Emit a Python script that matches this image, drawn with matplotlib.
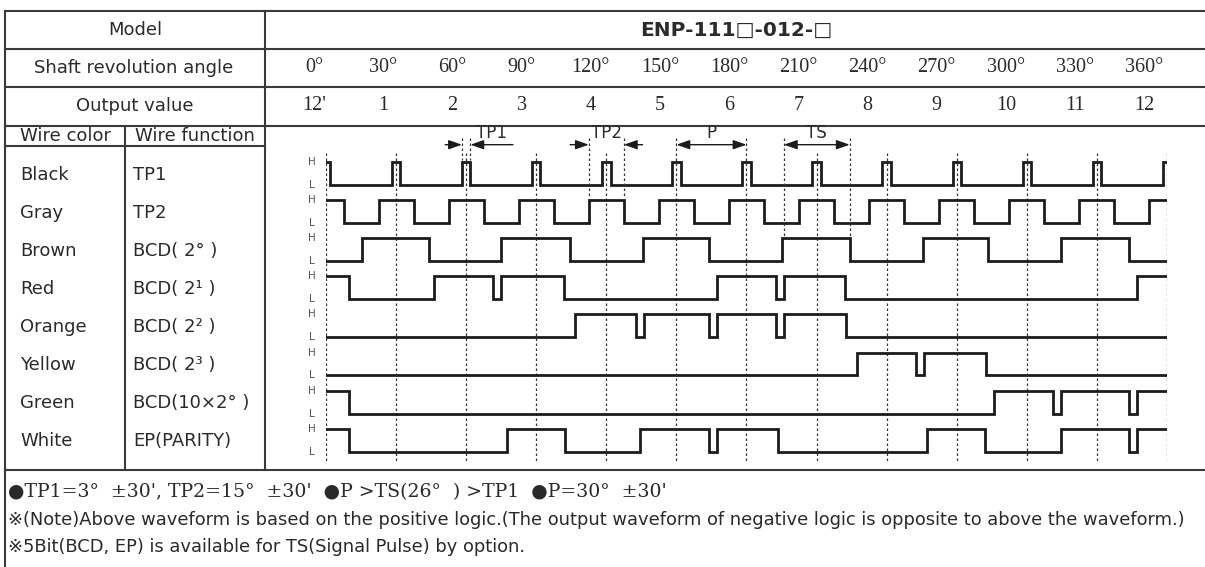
import matplotlib
matplotlib.use("Agg")
import matplotlib.pyplot as plt

# Table header data
model_name = "ENP-111\u25a1-012-\u25a1"
angle_labels = ["0°", "30°", "60°", "90°", "120°", "150°", "180°", "210°",
                "240°", "270°", "300°", "330°", "360°"]
output_labels = ["12'", "1", "2", "3", "4", "5", "6", "7", "8", "9", "10", "11", "12"]
wire_colors = ["Black", "Gray", "Brown", "Red", "Orange", "Yellow", "Green", "White"]
wire_functions = ["TP1", "TP2", "BCD( 2° )", "BCD( 2¹ )", "BCD( 2² )",
                  "BCD( 2³ )", "BCD(10×2° )", "EP(PARITY)"]

# Waveforms: starting level (1 = H) and the shaft angles where the level toggles
start_levels = [1, 1, 0, 1, 0, 0, 1, 1]
edges = [
    [1.8, 28.2, 31.8, 58.2, 61.8, 88.2, 91.8, 118.2, 121.8, 148.2, 151.8, 178.2,
     181.8, 208.2, 211.8, 238.2, 241.8, 268.2, 271.8, 298.2, 301.8, 328.2, 331.8, 358.2],
    [7.5, 22.5, 37.5, 52.5, 67.5, 82.5, 97.5, 112.5, 127.5, 142.5, 157.5, 172.5,
     187.5, 202.5, 217.5, 232.5, 247.5, 262.5, 277.5, 292.5, 307.5, 322.5, 337.5, 352.5],
    [15.5, 44, 75, 104.5, 135.5, 164, 195, 224.2, 255.5, 283.5, 314.5, 343.7],
    [10, 46.3, 71.3, 74.9, 101.7, 167.5, 192.5, 195.9, 222.3, 347.1],
    [106.7, 132.9, 136.3, 163.8, 167.5, 192.5, 195.9, 222.6],
    [227.1, 252.6, 256, 282.6],
    [10, 286, 311.2, 314.8, 343.7, 347.1],
    [10, 77.4, 102.4, 134.3, 163.8, 167.5, 193.3, 257.1, 281.9, 314.5, 343.7, 347.1],
]
grid_angles = [0, 30, 60, 90, 120, 150, 180, 210, 240, 270, 300, 330, 360]

notes = [
    "●TP1=3°  ±30', TP2=15°  ±30'  ●P >TS(26°  ) >TP1  ●P=30°  ±30'",
    "※(Note)Above waveform is based on the positive logic.(The output waveform of negative logic is opposite to above the waveform.)",
    "※5Bit(BCD, EP) is available for TS(Signal Pulse) by option.",
]

W, H = 1205, 567
fig = plt.figure(figsize=(W / 100, H / 100), dpi=100)
ax = fig.add_axes([0, 0, 1, 1])
ax.set_xlim(0, W)
ax.set_ylim(H, 0)
ax.axis("off")

sans = ["DejaVu Sans"]
serif = ["Liberation Serif", "DejaVu Serif"]
tc = "#2a2a2a"
lc = "#3a3a3a"
fs = 13

# table grid
for y in [11, 49, 87, 126, 470]:
    ax.plot([5, W], [y, y], color=lc, lw=1.5)
ax.plot([5, 265], [146, 146], color=lc, lw=1.5)
ax.plot([5, 5], [11, H], color=lc, lw=1.5)
ax.plot([265, 265], [11, 470], color=lc, lw=1.5)
ax.plot([125, 125], [126, 470], color=lc, lw=1.5)

ax.text(135, 30, "Model", ha="center", va="center", fontsize=fs, family=sans, color=tc)
ax.text(736, 30, model_name, ha="center", va="center", fontsize=14.5, family=sans,
        fontweight="bold", color=tc)
ax.text(134, 68, "Shaft revolution angle", ha="center", va="center", fontsize=fs,
        family=sans, color=tc)
ax.text(135, 106, "Output value", ha="center", va="center", fontsize=fs, family=sans, color=tc)
ax.text(65, 136, "Wire color", ha="center", va="center", fontsize=fs, family=sans, color=tc)
ax.text(195, 136, "Wire function", ha="center", va="center", fontsize=fs, family=sans, color=tc)

for k, (a, o) in enumerate(zip(angle_labels, output_labels)):
    x = 314 + k * 69.2
    ax.text(x, 68, a, ha="center", va="center", fontsize=14.5, family=serif, color=tc)
    ax.text(x, 106, o, ha="center", va="center", fontsize=14.5, family=serif, color=tc)

for i, (c, f) in enumerate(zip(wire_colors, wire_functions)):
    y = 174.5 + 38.1 * i
    ax.text(20, y, c, ha="left", va="center", fontsize=fs, family=sans, color=tc)
    ax.text(133, y, f, ha="left", va="center", fontsize=fs, family=sans, color=tc)

ax.text(8, 492, notes[0], ha="left", va="center", fontsize=13.6, family=["DejaVu Serif"],
        color=tc)
ax.text(8, 520, notes[1], ha="left", va="center", fontsize=12.9, family=sans, color=tc)
ax.text(8, 547, notes[2], ha="left", va="center", fontsize=12.9, family=sans, color=tc)

# waveform axes: x in degrees, y in row units
x0, x1 = 326, 1167
y0, y1 = 126, 470
wax = fig.add_axes([x0 / W, 1 - y1 / H, (x1 - x0) / W, (y1 - y0) / H])
wax.set_xlim(0, 360)
wax.set_ylim((y1 - 173.5) / 38.1, (y0 - 173.5) / 38.1)
wax.axis("off")

wax.vlines(grid_angles, -0.54, 7.58, colors="#333333", lw=0.9, linestyles=(0, (2, 2)))

for i, (s, e) in enumerate(zip(start_levels, edges)):
    xs = [0] + e + [360]
    lv = [s]
    for _ in e:
        lv.append(1 - lv[-1])
    lv.append(lv[-1])
    ys = [i + 0.3 - 0.6 * v for v in lv]
    wax.step(xs, ys, where="post", color="#1c1c1c", lw=2.0, solid_joinstyle="miter")
    wax.text(-6, i - 0.3, "H", ha="center", va="center", fontsize=7.5, family=sans,
             color="#555555", clip_on=False)
    wax.text(-6, i + 0.3, "L", ha="center", va="center", fontsize=7.5, family=sans,
             color="#555555", clip_on=False)

# timing markers
ya = -0.756
mk = dict(colors="#333333", lw=0.9, linestyles=(0, (2, 2)))
wax.vlines([58.2, 61.8], -0.93, -0.35, **mk)
wax.vlines([112.5, 127.5], -0.93, 0.65, **mk)
wax.vlines([150, 180], -0.93, -0.54, **mk)
wax.vlines([196, 224.2], -0.93, 1.65, **mk)

head = "-|>,head_length=0.8,head_width=0.28"
dbl = "<|-|>,head_length=0.8,head_width=0.28"
for a, b in [(51, 58.2), (80, 61.8), (104.5, 112.5), (135.5, 127.5)]:
    wax.annotate("", xy=(b, ya), xytext=(a, ya),
                 arrowprops=dict(arrowstyle=head, color="#1c1c1c", lw=1.0,
                                 shrinkA=0, shrinkB=0))
for a, b in [(150, 180), (196, 224.2)]:
    wax.annotate("", xy=(b, ya), xytext=(a, ya),
                 arrowprops=dict(arrowstyle=dbl, color="#1c1c1c", lw=1.0,
                                 shrinkA=0, shrinkB=0))
for lab, a in [("TP1", 71), ("TP2", 120), ("P", 165), ("TS", 210)]:
    wax.text(a, -1.05, lab, ha="center", va="center", fontsize=12, family=sans, color=tc)

fig.savefig("out.png", dpi=100)
